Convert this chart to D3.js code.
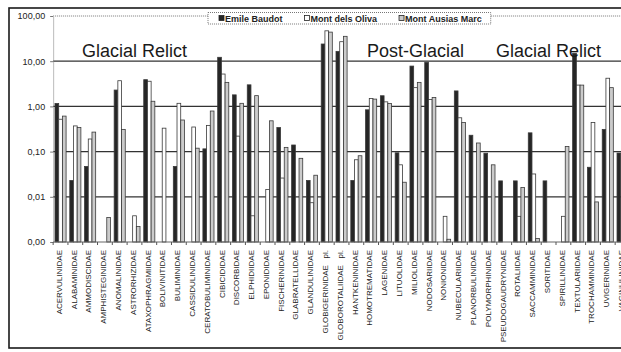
<!DOCTYPE html>
<html>
<head>
<meta charset="utf-8">
<script src="https://cdn.jsdelivr.net/npm/d3@7/dist/d3.min.js"></script>
<style>
  html, body { margin: 0; padding: 0; background: #fff; overflow: hidden; }
  svg { display: block; font-family: "Liberation Sans", Arial, Helvetica, sans-serif; }
  .xlab { white-space: pre; }
</style>
</head>
<body>
<svg id="chart" width="660" height="352"></svg>
<script>
// Foraminifera families (relative abundance, %, log scale)
const families = [
  "ACERVULINIDAE", "ALABAMINIDAE", "AMMODISCIDAE", "AMPHISTEGINIDAE", "ANOMALINIDAE",
  "ASTRORHIZIDAE", "ATAXOPHRAGMIIDAE", "BOLIVINITIDAE", "BULIMINIDAE", "CASSIDULINIDAE",
  "CERATOBULIMINIDAE", "CIBICIDIDAE", "DISCORBIDAE", "ELPHIDIIDAE", "EPONIDIDAE",
  "FISCHERINIDAE", "GLABRATELLIDAE", "GLANDULINIDAE", "GLOBIGERINIDAE   pl.", "GLOBOROTALIIDAE   pl.",
  "HANTKENINIDAE", "HOMOTREMATIDAE", "LAGENIDAE", "LITUOLIDAE", "MILIOLIDAE",
  "NODOSARIIDAE", "NONIONIDAE", "NUBECULARIIDAE", "PLANORBULINIDAE", "POLYMORPHINIDAE",
  "PSEUDOGAUDRYNIDAE", "ROTALIIDAE", "SACCAMMINIDAE", "SORITIDAE", "SPIRILLINIDAE",
  "TEXTULARIIDAE", "TROCHAMMINIDAE", "UVIGERINIDAE", "VAGINULINIDAE"
];

const seriesNames = ["Emile Baudot", "Mont dels Oliva", "Mont Ausias Marc"];

const emileBaudot = [
  1.16, 0.023, 0.047, null, 2.3,
  null, 3.9, null, 0.047, null,
  0.115, 12.2, 1.8, 3.0, null,
  0.34, 0.14, 0.023, 24, 16.5,
  0.023, 0.84, 1.72, 0.094, 7.8,
  9.5, null, 2.2, 0.23, 0.092,
  0.0225, 0.0225, 0.26, 0.0225, null,
  15, 0.045, 0.31, 0.093
];

const montDelsOliva = [
  0.52, 0.37, 0.19, null, 3.7,
  0.0038, 3.6, 0.33, 1.17, 0.35,
  0.38, 5.2, 0.22, 0.0038, 0.0145,
  0.026, null, 0.0074, 47, 27,
  0.066, 1.5, 1.26, 0.051, 2.6,
  1.42, 0.0037, 0.56, null, null,
  null, 0.0037, 0.032, null, 0.0037,
  2.96, 0.44, 4.2, null
];

const montAusiasMarc = [
  0.61, 0.34, 0.27, 0.0035, 0.31,
  0.0022, 1.3, null, 0.5, 0.119,
  0.79, 3.4, 1.17, 1.73, 0.48,
  0.124, 0.071, 0.03, 44, 35.5,
  0.081, 1.45, 1.16, 0.021, 3.4,
  1.57, 0.00115, 0.44, 0.155, 0.051,
  null, 0.016, 0.0012, null, 0.13,
  2.96, 0.0077, 2.6, null
];

const yTickValues = [0.001, 0.01, 0.1, 1, 10, 100];
const yTickLabels = ["0,00", "0,01", "0,10", "1,00", "10,00", "100,00"];

// Period annotations, anchored on a family
const periodLabels = ["Glacial Relict", "Post-Glacial", "Glacial Relict"];
const periodAnchors = ["ASTRORHIZIDAE", "MILIOLIDAE", "SORITIDAE"];

const seriesValues = [emileBaudot, montDelsOliva, montAusiasMarc];
const seriesFill = ["#262626", "#ffffff", "#cbcbcb"];

const svg = d3.select("#chart");

// outer chart frame
svg.append("rect")
  .attr("x", 9).attr("y", 8).attr("width", 700).attr("height", 340)
  .attr("fill", "#fff").attr("stroke", "#1a1a1a").attr("stroke-width", 1.6);

const plotLeft = 53.15, step = 14.79, plotTop = 16, plotBottom = 242;
const plotRight = plotLeft + step * families.length;

const x = d3.scaleBand().domain(families).range([plotLeft, plotRight]).paddingInner(0).paddingOuter(0);
const xs = d3.scaleBand().domain(seriesNames).range([0, x.bandwidth()]).paddingInner(0).paddingOuter(0.5);
const y = d3.scaleLog().domain([0.001, 100]).range([plotBottom, plotTop]);

// plot area border (dotted)
svg.append("line").attr("x1", plotLeft).attr("x2", plotRight).attr("y1", y(100)).attr("y2", y(100))
  .attr("stroke", "#777").attr("stroke-width", 1).attr("stroke-dasharray", "1,1");

// gridlines
svg.append("g").selectAll("line")
  .data(yTickValues.filter(v => v > 0.001 && v < 100))
  .join("line")
  .attr("x1", plotLeft).attr("x2", plotRight)
  .attr("y1", d => y(d)).attr("y2", d => y(d))
  .attr("stroke", "#333").attr("stroke-width", 1.3);

// y axis
const yAxis = svg.append("g")
  .attr("transform", `translate(${plotLeft},0)`)
  .call(d3.axisLeft(y).tickValues(yTickValues)
    .tickFormat((d, i) => yTickLabels[i]).tickSize(3).tickSizeOuter(0).tickPadding(5));
yAxis.select(".domain").attr("stroke", "#777").attr("stroke-dasharray", "1,1");
yAxis.selectAll(".tick line").attr("stroke", "#777");
yAxis.selectAll("text").attr("font-size", 9).attr("fill", "#222")
  .attr("font-family", '"Liberation Sans", Arial, sans-serif');

// bars
const rows = families.map((f, i) => ({ family: f, vals: seriesNames.map((s, k) => ({ s, k, v: seriesValues[k][i] })) }));
const groups = svg.append("g").selectAll("g").data(rows).join("g")
  .attr("transform", d => `translate(${x(d.family)},0)`);
groups.selectAll("rect")
  .data(d => d.vals.filter(e => e.v != null))
  .join("rect")
  .attr("x", e => xs(e.s))
  .attr("width", xs.bandwidth())
  .attr("y", e => y(e.v))
  .attr("height", e => y(0.001) - y(e.v))
  .attr("fill", e => seriesFill[e.k])
  .attr("stroke", "#3a3a3a")
  .attr("stroke-width", 0.8);

// x axis
const xAxis = svg.append("g").attr("transform", `translate(0,${plotBottom})`);
xAxis.append("line").attr("x1", plotLeft).attr("x2", plotRight).attr("stroke", "#666").attr("stroke-width", 1);
xAxis.selectAll(".bt").data(families.concat([null])).join("line").attr("class", "bt")
  .attr("x1", (d, i) => plotLeft + i * step).attr("x2", (d, i) => plotLeft + i * step)
  .attr("y1", 0).attr("y2", 3).attr("stroke", "#555");
xAxis.selectAll(".xlab").data(families).join("text").attr("class", "xlab")
  .attr("transform", d => `translate(${x(d) + x.bandwidth() / 2 - 1.5},0) rotate(-90)`)
  .attr("x", -8).attr("dy", "0.35em")
  .attr("text-anchor", "end")
  .attr("font-size", 8).attr("fill", "#222")
  .text(d => d);

// period annotations
svg.append("g").selectAll("text").data(periodLabels).join("text")
  .attr("x", (d, i) => x(periodAnchors[i]) + x.bandwidth() / 2)
  .attr("y", 57)
  .attr("text-anchor", "middle")
  .attr("font-size", 18).attr("fill", "#1a1a1a")
  .text(d => d);

// legend
const legend = svg.append("g");
const legBox = legend.append("rect")
  .attr("x", 208).attr("y", 12.5).attr("height", 11.5)
  .attr("fill", "#fff").attr("stroke", "#777").attr("stroke-dasharray", "1,1");
let lx = 219;
seriesNames.forEach((name, k) => {
  legend.append("rect").attr("x", lx).attr("y", 15.5).attr("width", 5).attr("height", 5)
    .attr("fill", seriesFill[k]).attr("stroke", "#222").attr("stroke-width", 0.8);
  const t = legend.append("text").attr("x", lx + 6).attr("y", 21.5)
    .attr("font-size", 9).attr("font-weight", "bold").attr("fill", "#222").text(name);
  lx = lx + 6 + t.node().getComputedTextLength() + 22;
});
legBox.attr("width", lx - 22 + 9 - 208);
</script>
</body>
</html>
